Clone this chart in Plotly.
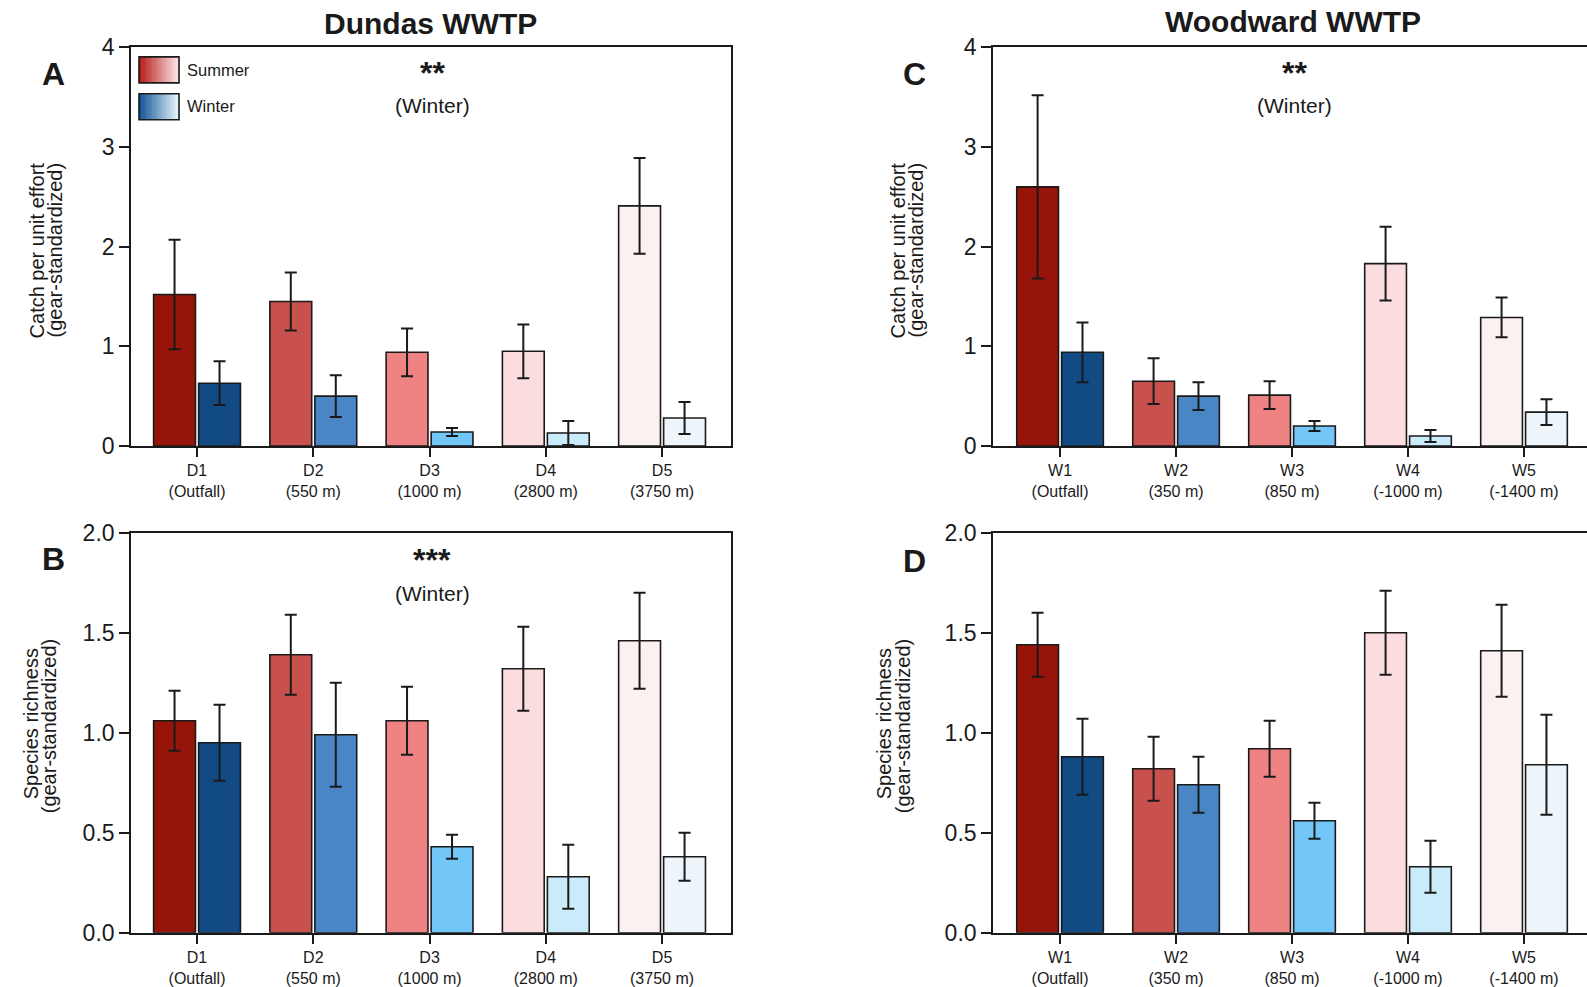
import plotly.graph_objects as go

W, H = 1587, 987

dundas_sites = ["D1<br>(Outfall)", "D2<br>(550 m)", "D3<br>(1000 m)", "D4<br>(2800 m)", "D5<br>(3750 m)"]
woodward_sites = ["W1<br>(Outfall)", "W2<br>(350 m)", "W3<br>(850 m)", "W4<br>(-1000 m)", "W5<br>(-1400 m)"]

# Panel A: Dundas CPUE
cpue_d_summer = [1.52, 1.45, 0.94, 0.95, 2.41]
cpue_d_summer_err = [0.55, 0.29, 0.24, 0.27, 0.48]
cpue_d_winter = [0.63, 0.50, 0.14, 0.13, 0.28]
cpue_d_winter_err = [0.22, 0.21, 0.04, 0.12, 0.16]

# Panel B: Dundas species richness
rich_d_summer = [1.06, 1.39, 1.06, 1.32, 1.46]
rich_d_summer_err = [0.15, 0.20, 0.17, 0.21, 0.24]
rich_d_winter = [0.95, 0.99, 0.43, 0.28, 0.38]
rich_d_winter_err = [0.19, 0.26, 0.06, 0.16, 0.12]

# Panel C: Woodward CPUE
cpue_w_summer = [2.60, 0.65, 0.51, 1.83, 1.29]
cpue_w_summer_err = [0.92, 0.23, 0.14, 0.37, 0.20]
cpue_w_winter = [0.94, 0.50, 0.20, 0.10, 0.34]
cpue_w_winter_err = [0.30, 0.14, 0.05, 0.06, 0.13]

# Panel D: Woodward species richness
rich_w_summer = [1.44, 0.82, 0.92, 1.50, 1.41]
rich_w_summer_err = [0.16, 0.16, 0.14, 0.21, 0.23]
rich_w_winter = [0.88, 0.74, 0.56, 0.33, 0.84]
rich_w_winter_err = [0.19, 0.14, 0.09, 0.13, 0.25]

summer_colors = ["#961409", "#c8514d", "#ef8383", "#fbdde0", "#fcf1f1"]
winter_colors = ["#124a84", "#4a86c5", "#72c7f8", "#c9ebfa", "#eef5fa"]

FONT = "Liberation Sans, Arial, Helvetica, sans-serif"
INK = "#1a1a1a"


def px(x):
    return x / W


def Y(y):
    # vertical position correction (empirical)
    return (y - 11.0) / 0.976


def py(y):
    return 1 - Y(y) / H


fig = go.Figure()

panels = [
    ("x", "y", dundas_sites, cpue_d_summer, cpue_d_summer_err, cpue_d_winter, cpue_d_winter_err),
    ("x2", "y2", woodward_sites, cpue_w_summer, cpue_w_summer_err, cpue_w_winter, cpue_w_winter_err),
    ("x3", "y3", dundas_sites, rich_d_summer, rich_d_summer_err, rich_d_winter, rich_d_winter_err),
    ("x4", "y4", woodward_sites, rich_w_summer, rich_w_summer_err, rich_w_winter, rich_w_winter_err),
]

for xa, ya, sites, s, se, w, we in panels:
    fig.add_trace(go.Bar(
        x=sites, y=s, xaxis=xa, yaxis=ya, name="Summer", showlegend=False,
        marker=dict(color=summer_colors, line=dict(color=INK, width=1.6)),
        error_y=dict(type="data", array=se, visible=True, color=INK, thickness=2, width=6),
        offsetgroup="s",
    ))
    fig.add_trace(go.Bar(
        x=sites, y=w, xaxis=xa, yaxis=ya, name="Winter", showlegend=False,
        marker=dict(color=winter_colors, line=dict(color=INK, width=1.6)),
        error_y=dict(type="data", array=we, visible=True, color=INK, thickness=2, width=6),
        offsetgroup="w",
    ))

left_dom = [px(131), px(731)]
right_dom = [px(993), 1.0]
top_dom = [py(445), py(45.5)]
bot_dom = [py(933), py(532)]

xcommon = dict(type="category", showline=True, linecolor=INK, linewidth=1.6,
               ticks="outside", ticklen=9, tickwidth=1.6, tickcolor=INK,
               tickfont=dict(family=FONT, size=16, color=INK), showgrid=False,
               zeroline=False, fixedrange=True)
ycommon = dict(showline=True, linecolor=INK, linewidth=1.6, ticks="outside", ticklen=10,
               tickwidth=1.6, tickcolor=INK, tickfont=dict(family=FONT, size=23, color=INK),
               showgrid=False, zeroline=False)

fig.update_layout(
    width=W, height=H, margin=dict(l=0, r=0, t=0, b=0),
    paper_bgcolor="white", plot_bgcolor="white",
    barmode="group", bargap=0.226, bargroupgap=0.07,
    font=dict(family=FONT, color=INK),
    xaxis=dict(domain=left_dom, anchor="y", range=[-0.568, 4.593], mirror=True, **xcommon),
    xaxis2=dict(domain=right_dom, anchor="y2", range=[-0.578, 4.543], mirror=True, **xcommon),
    xaxis3=dict(domain=left_dom, anchor="y3", range=[-0.568, 4.593], mirror=True, **xcommon),
    xaxis4=dict(domain=right_dom, anchor="y4", range=[-0.578, 4.543], mirror=True, **xcommon),
    yaxis=dict(domain=top_dom, anchor="x", range=[0, 4], tickvals=[0, 1, 2, 3, 4], mirror=True, **ycommon),
    yaxis2=dict(domain=top_dom, anchor="x2", range=[0, 4], tickvals=[0, 1, 2, 3, 4], mirror=False, **ycommon),
    yaxis3=dict(domain=bot_dom, anchor="x3", range=[0, 2], tickvals=[0, 0.5, 1, 1.5, 2], tickformat=".1f", mirror=True, **ycommon),
    yaxis4=dict(domain=bot_dom, anchor="x4", range=[0, 2], tickvals=[0, 0.5, 1, 1.5, 2], tickformat=".1f", mirror=False, **ycommon),
)

ann = []


def text(x, y, t, size, bold=False, angle=0, xanchor="center"):
    ann.append(dict(x=px(x), y=py(y), xref="paper", yref="paper", text=("<b>%s</b>" % t) if bold else t,
                    showarrow=False, xanchor=xanchor, yanchor="middle", textangle=angle,
                    font=dict(family=FONT, size=size, color=INK)))


def title(x, t, shift):
    ann.append(dict(x=px(x), y=1, xref="paper", yref="paper", text="<b>%s</b>" % t,
                    showarrow=False, xanchor="center", yanchor="top", yshift=shift,
                    borderpad=0, font=dict(family=FONT, size=30, color=INK)))


# Titles
title(430, "Dundas WWTP", 7)
title(1293, "Woodward WWTP", 9)
# Panel letters
text(53, 72, "A", 32, bold=True)
text(53, 558, "B", 32, bold=True)
text(914, 72, "C", 32, bold=True)
text(914, 560, "D", 32, bold=True)
# Y-axis titles (two lines each)
text(37, 249, "Catch per unit effort", 20, angle=-90)
text(55, 249, "(gear-standardized)", 20, angle=-90)
text(31, 724, "Species richness", 20, angle=-90)
text(49, 726, "(gear-standardized)", 20, angle=-90)
text(898, 249, "Catch per unit effort", 20, angle=-90)
text(916, 249, "(gear-standardized)", 20, angle=-90)
text(884, 724, "Species richness", 20, angle=-90)
text(903, 726, "(gear-standardized)", 20, angle=-90)
# Significance
text(432, 71, "**", 32, bold=True)
text(432, 104, "(Winter)", 21)
text(432, 559, "***", 32, bold=True)
text(432, 593, "(Winter)", 21)
text(1294, 71, "**", 32, bold=True)
text(1294, 104, "(Winter)", 21)
# Legend text
text(185, 68, "Summer", 16.5, xanchor="left")
text(185, 104, "Winter", 16.5, xanchor="left")

shapes = []


def lerp(c1, c2, t):
    a = [int(c1[i:i + 2], 16) for i in (1, 3, 5)]
    b = [int(c2[i:i + 2], 16) for i in (1, 3, 5)]
    return "rgb(%d,%d,%d)" % tuple(round(a[k] + (b[k] - a[k]) * t) for k in range(3))


def swatch(x0, y0, x1, y1, c_left, c_right, n=24):
    for i in range(n):
        xa = x0 + (x1 - x0) * i / n
        xb = x0 + (x1 - x0) * (i + 1) / n + 0.5
        shapes.append(dict(type="rect", xref="paper", yref="paper", x0=px(xa), x1=px(xb),
                           y0=py(y1), y1=py(y0), line=dict(width=0),
                           fillcolor=lerp(c_left, c_right, i / (n - 1)), layer="above"))
    shapes.append(dict(type="rect", xref="paper", yref="paper", x0=px(x0), x1=px(x1),
                       y0=py(y1), y1=py(y0), line=dict(color=INK, width=1.6), layer="above"))


swatch(139, 55, 179, 81, "#b51c18", "#fce6e6")
swatch(139, 92, 179, 118, "#135496", "#e6f6fe")

fig.update_layout(annotations=ann, shapes=shapes)

fig.write_html("out.html")
